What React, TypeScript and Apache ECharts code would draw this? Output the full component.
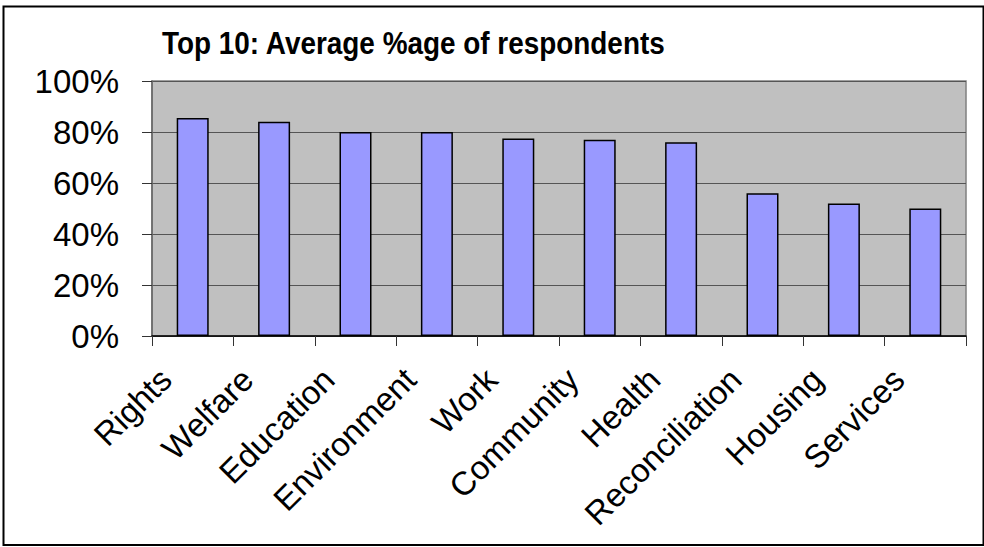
import React, { useEffect, useRef } from 'react';
import * as echarts from 'echarts';

const titleText = 'Top 10: Average %age of respondents';
const categories = ['Rights', 'Welfare', 'Education', 'Environment', 'Work', 'Community', 'Health', 'Reconciliation', 'Housing', 'Services'];
const values = [85.5, 84, 80, 80, 77.5, 77, 76, 56, 52, 50];
const yMin = 0;
const yMax = 100;
const yStep = 20;

const FONT = '"Liberation Sans", Arial, sans-serif';

export default function App() {
  const ref = useRef<HTMLDivElement>(null);
  useEffect(() => {
    document.body.style.margin = '0';
    const chart = echarts.init(ref.current!, undefined, { renderer: 'svg' });
    chart.setOption({
      animation: false,
      backgroundColor: '#ffffff',
      grid: {
        left: 152,
        top: 81,
        right: 18,
        bottom: 211,
        show: true,
        backgroundColor: '#C0C0C0',
        borderColor: '#808080',
        borderWidth: 1.5,
      },
      xAxis: {
        type: 'category',
        data: categories,
        axisLine: { show: true, lineStyle: { color: '#000', width: 1.5 } },
        axisTick: { show: true, length: 10, alignWithLabel: false, lineStyle: { color: '#333', width: 1 } },
        axisLabel: {
          interval: 0,
          rotate: 45,
          margin: 11,
          padding: [0, 38, 0, 0],
          fontFamily: FONT,
          fontSize: 33,
          color: '#000',
        },
        splitLine: { show: false },
      },
      yAxis: {
        type: 'value',
        min: yMin,
        max: yMax,
        interval: yStep,
        axisLine: { show: true, lineStyle: { color: '#666', width: 1.5 } },
        axisTick: { show: true, length: 10, lineStyle: { color: '#333', width: 1 } },
        axisLabel: {
          formatter: '{value}%',
          margin: 33,
          fontFamily: FONT,
          fontSize: 33,
          color: '#000',
        },
        splitLine: { show: true, lineStyle: { color: '#555', width: 1.2 } },
      },
      series: [
        {
          type: 'bar',
          data: values,
          barWidth: 32,
          itemStyle: { color: '#9999FF', borderColor: '#000', borderWidth: 1.5 },
        },
      ],
      graphic: [
        {
          type: 'text',
          x: 162,
          y: 43,
          scaleX: 0.9,
          silent: true,
          style: {
            text: titleText,
            font: 'bold 31px "Liberation Sans", Arial, sans-serif',
            fill: '#000',
            textAlign: 'left',
            textVerticalAlign: 'middle',
          },
        },
        {
          type: 'rect',
          shape: { x: 3.5, y: 6.5, width: 980, height: 538.5 },
          style: { fill: 'none', stroke: '#000', lineWidth: 2 },
          silent: true,
        },
      ],
    });
    return () => chart.dispose();
  }, []);
  return <div ref={ref} style={{ position: 'fixed', left: 0, top: 0, width: 984, height: 547 }} />;
}
